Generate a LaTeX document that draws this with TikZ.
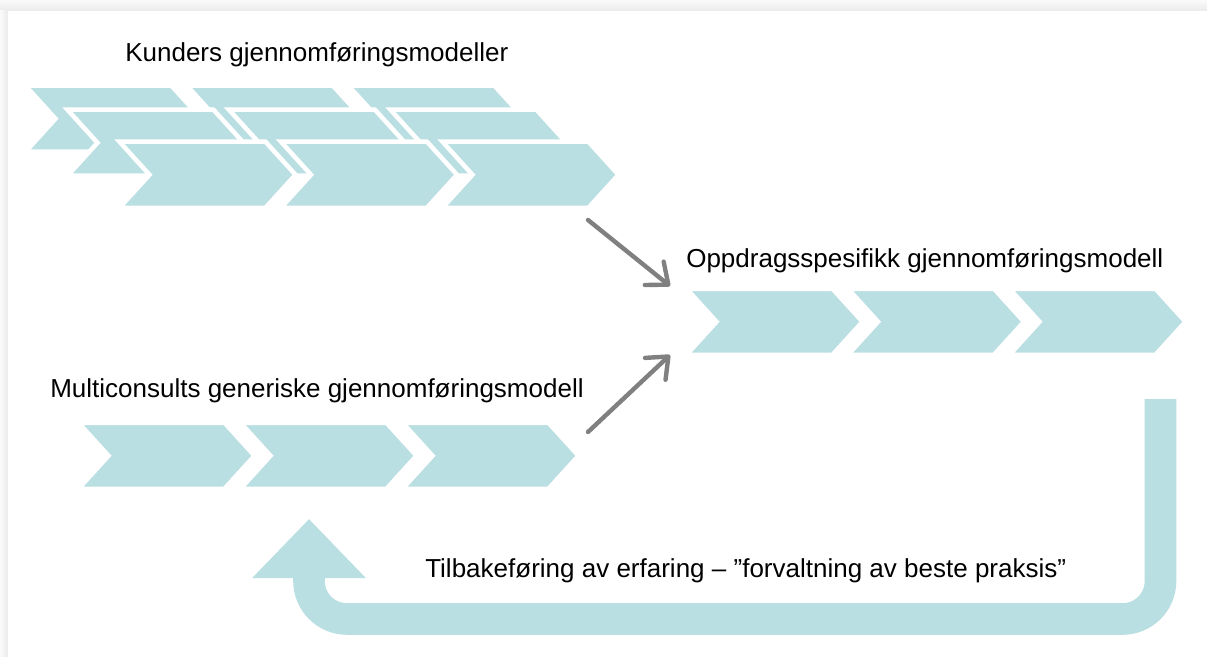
\documentclass[tikz,border=0pt]{standalone}
\usepackage{fontspec}
\setmainfont{Liberation Sans}
\usetikzlibrary{arrows.meta}

\definecolor{chevblue}{RGB}{186,223,227}
\definecolor{arrowgray}{RGB}{128,128,128}

% one chevron, #1/#2 = top-left corner (px)
\newcommand{\chev}[2]{%
  \path[chevron] (#1,#2) -- ++(146,0) -- ++(30,33) -- ++(-30,33)
    -- ++(-146,0) -- ++(30,-33) -- cycle;}

\begin{document}
\begin{tikzpicture}[
  x=0.25mm, y=-0.25mm,
  every node/.style={font=\fontsize{18.5}{22}\selectfont, inner sep=0pt},
  chevron/.style={fill=chevblue, draw=white, line width=1.125mm, line join=miter},
  lbl/.style={anchor=base west},
  flow/.style={-{Straight Barb[length=4.5mm, width=7.5mm, round]},
               line width=1.1mm, draw=arrowgray, line cap=round},
  feedback/.style={-{Triangle[length=14.75mm, width=27.5mm]},
                   line width=7.9mm, draw=chevblue, rounded corners=9.5mm},
]

%% ── Slide frame ───────────────────────────────────────
\fill[gray!10] (0,0) rectangle (1207,657);
\shade[top color=gray!4, bottom color=gray!16] (0,0) rectangle (1207,11);
\shade[left color=gray!4, right color=gray!16] (0,11) rectangle (8,657);
\fill[white] (8,11) rectangle (1207,657);

%% ── Row positions ─────────────────────────────────────
\def\step{161.5}
\def\midx{686.5}  \def\midy{288.75}  % oppdrag row
\def\mcx{78.5}    \def\mcy{422.75}   % multiconsult row

%% ── Kunders stack (back → front) ──────────────────────
\foreach \ox/\oy in {25.5/85.75, 67.5/109.75, 119.5/141.75}
  \foreach \i in {0,1,2}
    \chev{\ox+\step*\i}{\oy};

%% ── Oppdrag + Multiconsult rows ───────────────────────
\foreach \i in {0,1,2} {
  \chev{\midx+\step*\i}{\midy};
  \chev{\mcx+162*\i}{\mcy};
}

%% ── Labels ────────────────────────────────────────────
\node[lbl] (kundetitle)   at (125,62)  {Kunders gjennomføringsmodeller};
\node[lbl] (oppdragtitle) at (686,267) {Oppdragsspesifikk gjennomføringsmodell};
\node[lbl] (mctitle)      at (50,397)  {Multiconsults generiske gjennomføringsmodell};
\node[lbl] (fbtext)       at (425,577)
  {Tilbakeføring av erfaring – ”forvaltning av beste praksis”};

%% ── Arrow ends ────────────────────────────────────────
\coordinate (kundeout) at (588,220);
\coordinate (mcout)    at (588,432);
\coordinate (oppin1)   at (670,286);
\coordinate (oppin2)   at (670,355);
\coordinate (fbstart)  at (1160.5,399);
\coordinate (fbcorner) at (309,619);
\coordinate (fbend)    at (309,519);

%% ── Flow arrows ───────────────────────────────────────
\draw[flow] (kundeout) -- (oppin1);
\draw[flow] (mcout)    -- (oppin2);

% feedback loop back to the generic model
\draw[feedback] (fbstart) |- (fbcorner) -- (fbend);

\end{tikzpicture}
\end{document}
